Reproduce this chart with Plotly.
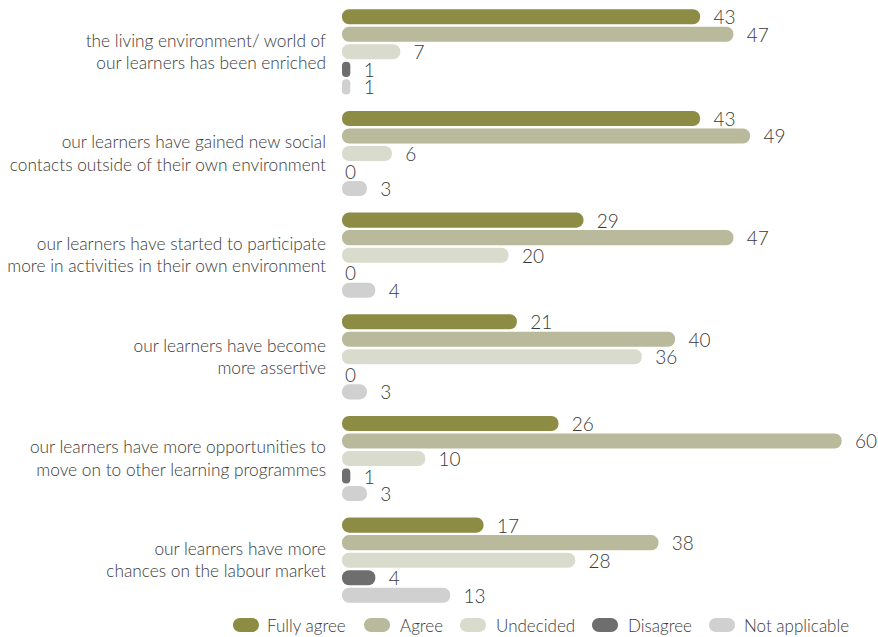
import plotly.graph_objects as go

# Survey statements (category axis) and response shares per answer option
statements = [
    "the living environment/ world of<br>our learners has been enriched",
    "our learners have gained new social<br>contacts outside of their own environment",
    "our learners have started to participate<br>more in activities in their own environment",
    "our learners have become<br>more assertive",
    "our learners have more opportunities to<br>move on to other learning programmes",
    "our learners have more<br>chances on the labour market",
]

fully_agree = [43, 43, 29, 21, 26, 17]
agree = [47, 49, 47, 40, 60, 38]
undecided = [7, 6, 20, 36, 10, 28]
disagree = [1, 0, 0, 0, 1, 4]
not_applicable = [1, 3, 4, 3, 3, 13]

series_names = ["Fully agree", "Agree", "Undecided", "Disagree", "Not applicable"]
series_values = [fully_agree, agree, undecided, disagree, not_applicable]
series_colors = ["#8c8c45", "#b9b99c", "#d9dbcc", "#6e6e6e", "#d0d0d0"]

FONT = "Lato"
TEXT_COLOR = "#3a3a3a"
NBSP = "\u00a0"

fig = go.Figure()
for name, vals, color in zip(series_names, series_values, series_colors):
    labels = [(NBSP * 2 + str(v)) if v > 0 else str(v) for v in vals]
    fig.add_trace(go.Bar(
        name=name,
        y=statements,
        x=vals,
        base=[0] * len(vals),  # explicit base: rounded at both ends
        orientation="h",
        marker=dict(color=color, line=dict(width=0)),
        text=labels,
        textposition="outside",
        outsidetextfont=dict(family=FONT, size=19, color=TEXT_COLOR, weight=300),
        cliponaxis=False,
        constraintext="none",
        hoverinfo="x+name",
        showlegend=False,
    ))

# Legend drawn as rounded pills with labels underneath the plot area
plot_left, plot_width = 342, 518
plot_height = 610
legend_y = -(625 - 611) / plot_height
pill_x = [233, 364, 460, 592, 709]
label_x = [265, 398, 494, 626, 742]
pill = ("M7,-7 H19 C22.9,-7 26,-3.9 26,0 C26,3.9 22.9,7 19,7 H7 "
        "C3.1,7 0,3.9 0,0 C0,-3.9 3.1,-7 7,-7 Z")
shapes, annotations = [], []
for name, color, px, lx in zip(series_names, series_colors, pill_x, label_x):
    shapes.append(dict(
        type="path", xref="paper", yref="paper",
        xsizemode="pixel", ysizemode="pixel",
        xanchor=(px - plot_left) / plot_width, yanchor=legend_y,
        path=pill, fillcolor=color, line=dict(width=0), layer="above",
    ))
    annotations.append(dict(
        text=name, xref="paper", yref="paper",
        x=(lx - plot_left) / plot_width, y=legend_y,
        xanchor="left", yanchor="middle", showarrow=False,
        font=dict(family=FONT, size=17, color=TEXT_COLOR, weight=300),
    ))

fig.update_layout(
    width=878, height=637,
    margin=dict(l=plot_left, r=878 - plot_left - plot_width, t=1, b=26),
    barmode="group",
    bargap=0.138,
    bargroupgap=0.14,
    barcornerradius="50%",
    plot_bgcolor="white",
    paper_bgcolor="white",
    font=dict(family=FONT, size=17, color=TEXT_COLOR, weight=300),
    xaxis=dict(range=[0, 62.2], visible=False, showgrid=False, zeroline=False),
    yaxis=dict(
        autorange="reversed", showgrid=False, zeroline=False, showline=False,
        ticks="", ticklabelstandoff=15,
        tickfont=dict(family=FONT, size=17.3, color=TEXT_COLOR, weight=300),
    ),
    shapes=shapes,
    annotations=annotations,
)

fig.write_html("out.html")
